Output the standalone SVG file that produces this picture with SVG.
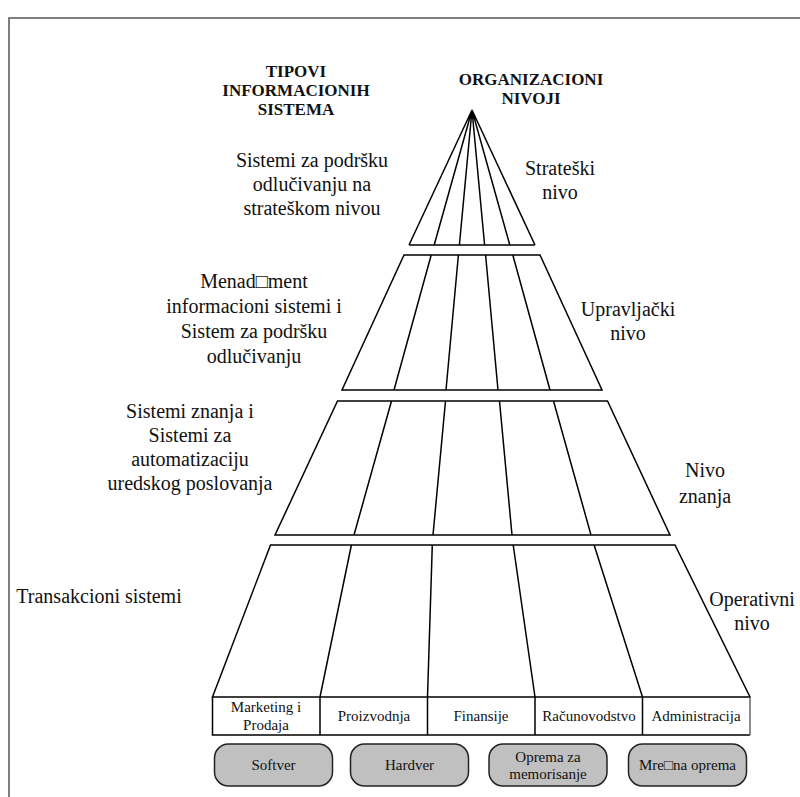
<svg xmlns="http://www.w3.org/2000/svg" width="800" height="797" viewBox="0 0 800 797">
<style>
text{font-family:'Liberation Serif','Times New Roman',Times,serif}
.ln{stroke:#000;stroke-width:1.5;fill:none;stroke-linejoin:miter}
.t{font-size:20px;fill:#111;text-anchor:middle}
.h{font-size:17px;font-weight:bold;fill:#111;text-anchor:middle}
.s{font-size:15px;fill:#111;text-anchor:middle}
.bx{fill:#c0c0c0;stroke:#222;stroke-width:1.5}
</style>
<rect x="9" y="18" width="900" height="900" fill="#fff" stroke="#555" stroke-width="1.5"/>
<g id="headers">
<text class="h" x="296" y="77">TIPOVI</text>
<text class="h" x="296" y="96">INFORMACIONIH</text>
<text class="h" x="296" y="115">SISTEMA</text>
<text class="h" x="531" y="85">ORGANIZACIONI</text>
<text class="h" x="531" y="104">NIVOJI</text>
</g>
<g id="connectors">
<g id="level-strateski">
<path class="ln" d="M409,245 L535,245 M472,110 L409,245 M472,110 L434.2,245 M472,110 L459.4,245 M472,110 L484.6,245 M472,110 L509.8,245 M472,110 L535,245"/>
</g>
<g id="level-upravljacki">
<path class="ln" d="M404,255 L540,255 L602,390 L342,390 Z M431.2,255 L394,390 M458.4,255 L446,390 M485.6,255 L498,390 M512.8,255 L550,390"/>
</g>
<g id="level-znanja">
<path class="ln" d="M337.5,401 L607.5,401 L670,535 L275,535 Z M391.5,401 L354,535 M445.5,401 L433,535 M499.5,401 L512,535 M553.5,401 L591,535"/>
</g>
<g id="level-operativni">
<path class="ln" d="M270.5,545 L675,545 L750,697 L212.5,697 Z M351.4,545 L320,697 M432.3,545 L427.5,697 M513.2,545 L535,697 M594.1,545 L642.5,697"/>
</g>
</g>
<g id="labels-left">
<text class="t" x="312" y="167">Sistemi za podršku</text>
<text class="t" x="312" y="191">odlučivanju na</text>
<text class="t" x="312" y="215">strateškom nivou</text>
<text class="t" x="254" y="288">Menad□ment</text>
<text class="t" x="254" y="313">informacioni sistemi i</text>
<text class="t" x="254" y="338">Sistem za podršku</text>
<text class="t" x="254" y="363">odlučivanju</text>
<text class="t" x="190" y="418">Sistemi znanja i</text>
<text class="t" x="190" y="442">Sistemi za</text>
<text class="t" x="190" y="466">automatizaciju</text>
<text class="t" x="190" y="490">uredskog poslovanja</text>
<text class="t" x="99" y="603">Transakcioni sistemi</text>
</g>
<g id="labels-right">
<text class="t" x="560" y="175">Strateški</text>
<text class="t" x="560" y="199">nivo</text>
<text class="t" x="628" y="316">Upravljački</text>
<text class="t" x="628" y="340">nivo</text>
<text class="t" x="705" y="477">Nivo</text>
<text class="t" x="705" y="503">znanja</text>
<text class="t" x="752" y="606">Operativni</text>
<text class="t" x="752" y="630">nivo</text>
</g>
<g id="departments">
<path class="ln" d="M212.5,697 L212.5,735 L750,735 M320,697 L320,735 M427.5,697 L427.5,735 M535,697 L535,735 M642.5,697 L642.5,735"/>
<path d="M750,697 L750,735" stroke="#666" stroke-width="1.5"/>
<text class="s" x="266" y="712">Marketing i</text>
<text class="s" x="266" y="730">Prodaja</text>
<text class="s" x="374" y="721">Proizvodnja</text>
<text class="s" x="481" y="721">Finansije</text>
<text class="s" x="589" y="721" font-size="14">Računovodstvo</text>
<text class="s" x="696" y="721">Administracija</text>
</g>
<g id="node-softver">
<rect class="bx" x="214.5" y="744" width="118" height="42" rx="14"/>
<text class="s" x="273.5" y="770" font-size="16">Softver</text>
</g>
<g id="node-hardver">
<rect class="bx" x="350.5" y="744" width="118" height="42" rx="14"/>
<text class="s" x="409.5" y="770" font-size="16">Hardver</text>
</g>
<g id="node-oprema">
<rect class="bx" x="489" y="744" width="118" height="42" rx="14"/>
<text class="s" x="548" y="762">Oprema za</text>
<text class="s" x="548" y="779">memorisanje</text>
</g>
<g id="node-mrezna">
<rect class="bx" x="628.5" y="744" width="118" height="42" rx="14"/>
<text class="s" x="687.5" y="770" font-size="16">Mre□na oprema</text>
</g>
</svg>
